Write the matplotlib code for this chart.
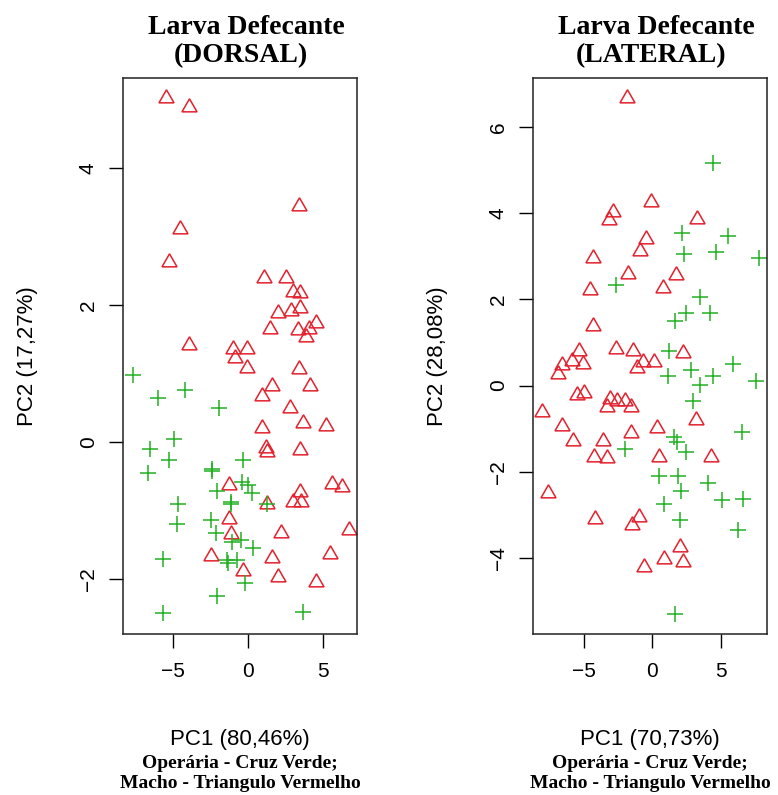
import matplotlib.pyplot as plt

# PCA scores, Larva Defecante - DORSAL view
dorsal_macho_pc1 = [
    -5.49, -3.93, 3.40, -4.53, -5.27, 1.09, 2.53, 3.00, 3.50, 1.98,
    2.85, 3.47, 1.47, 3.33, 4.07, 4.53, 3.87, -3.93, -0.98, -0.07,
    -0.87, -0.07, 3.40, 1.58, 4.13, 0.91, 2.80, 3.64, 5.18, 0.93,
    1.20, 1.24, 3.47, 5.58, 6.29, -1.27, 3.47, 2.98, 3.53, 1.24,
    -1.27, -1.13, 2.18, 6.71, -2.47, 1.62, 5.47, -0.36, 1.98, 4.53,
]
dorsal_macho_pc2 = [
    5.02, 4.88, 3.44, 3.11, 2.62, 2.39, 2.39, 2.19, 2.17, 1.88,
    1.91, 1.96, 1.65, 1.63, 1.65, 1.73, 1.53, 1.41, 1.36, 1.36,
    1.23, 1.08, 1.06, 0.82, 0.82, 0.67, 0.50, 0.28, 0.23, 0.20,
    -0.09, -0.14, -0.12, -0.61, -0.65, -0.63, -0.73, -0.87, -0.87, -0.90,
    -1.12, -1.34, -1.32, -1.29, -1.66, -1.69, -1.64, -1.88, -1.97, -2.04,
]
dorsal_operaria_pc1 = [
    -7.69, -4.20, -6.02, -1.91, -4.91, -6.53, -5.24, -0.36, -6.64, -2.42,
    -2.38, -2.09, -0.42, 0.02, 0.24, -4.64, -1.13, -1.10, 1.24, -4.76,
    -2.47, -2.13, -1.04, -0.47, 0.36, -5.69, -1.42, -1.31, -0.76, -0.20,
    -2.09, -5.69, 3.69,
]
dorsal_operaria_pc2 = [
    0.98, 0.76, 0.64, 0.49, 0.04, -0.10, -0.26, -0.26, -0.45, -0.42,
    -0.40, -0.72, -0.59, -0.63, -0.75, -0.90, -0.90, -0.88, -0.90, -1.20,
    -1.13, -1.32, -1.46, -1.43, -1.55, -1.71, -1.72, -1.77, -1.72, -2.06,
    -2.25, -2.50, -2.48,
]

# PCA scores, Larva Defecante - LATERAL view
lateral_macho_pc1 = [
    -1.85, -0.10, -2.82, -3.12, 3.31, -0.46, -0.88, -4.28, -1.78, 1.75,
    -4.53, 0.78, -4.33, -5.33, -2.65, -1.41, 2.24, -5.86, -6.55, -5.01,
    -0.63, 0.15, -1.07, -6.88, -5.45, -4.96, -3.07, -2.53, -1.97, -3.26,
    -1.55, -8.00, 3.19, -6.55, -1.55, 0.34, -5.74, -3.55, -4.21, -3.31,
    0.49, 4.28, -7.57, -4.16, -0.93, -1.48, 2.04, 0.88, 2.24, -0.56,
]
lateral_macho_pc2 = [
    6.67, 4.26, 4.03, 3.84, 3.86, 3.41, 3.12, 2.96, 2.60, 2.56,
    2.21, 2.27, 1.37, 0.81, 0.84, 0.80, 0.75, 0.58, 0.47, 0.49,
    0.54, 0.54, 0.41, 0.26, -0.23, -0.18, -0.31, -0.35, -0.36, -0.49,
    -0.50, -0.62, -0.79, -0.95, -1.11, -0.99, -1.30, -1.30, -1.67, -1.69,
    -1.65, -1.67, -2.50, -3.10, -3.06, -3.23, -3.74, -4.03, -4.09, -4.22,
]
lateral_operaria_pc1 = [
    4.48, 2.17, 5.57, 2.34, 4.65, 7.83, -2.63, 3.50, 2.48, 4.23,
    1.68, 1.26, 5.89, 2.82, 4.43, 1.19, 3.50, 7.57, 2.97, 6.55,
    1.61, 1.80, -1.97, 2.46, 0.53, 1.92, 4.11, 2.09, 0.90, 5.09,
    6.67, 2.04, 6.30, 1.68,
]
lateral_operaria_pc2 = [
    5.17, 3.54, 3.47, 3.05, 3.10, 2.95, 2.33, 2.05, 1.69, 1.69,
    1.50, 0.80, 0.49, 0.36, 0.23, 0.21, 0.02, 0.10, -0.36, -1.09,
    -1.19, -1.32, -1.47, -1.55, -2.09, -2.09, -2.27, -2.46, -2.74, -2.65,
    -2.64, -3.12, -3.36, -5.31,
]

panels = [
    dict(title=("Larva Defecante", "(DORSAL)"), xlab="PC1 (80,46%)", ylab="PC2 (17,27%)",
         macho=(dorsal_macho_pc1, dorsal_macho_pc2),
         operaria=(dorsal_operaria_pc1, dorsal_operaria_pc2),
         xlim=(-8.33, 7.27), ylim=(-2.80, 5.31),
         xticks=[-5, 0, 5], yticks=[-2, 0, 2, 4]),
    dict(title=("Larva Defecante", "(LATERAL)"), xlab="PC1 (70,73%)", ylab="PC2 (28,08%)",
         macho=(lateral_macho_pc1, lateral_macho_pc2),
         operaria=(lateral_operaria_pc1, lateral_operaria_pc2),
         xlim=(-8.69, 8.39), ylim=(-5.77, 7.14),
         xticks=[-5, 0, 5], yticks=[-4, -2, 0, 2, 4, 6]),
]

RED = "#e3202c"
GREEN = "#22b022"
serif = ["Liberation Serif", "DejaVu Serif"]
sans = ["Liberation Sans", "DejaVu Sans"]

W, H = 778, 795
fig = plt.figure(figsize=(W / 100, H / 100), dpi=100)
lefts = [123, 533]


def fy(py):
    return 1 - py / H


for p, left in zip(panels, lefts):
    ax = fig.add_axes([left / W, (H - 634) / H, 234 / W, 556 / H])
    ax.plot(*p["macho"], linestyle="none", marker=(3, 0, 0), markersize=12.5,
            markerfacecolor="none", markeredgecolor=RED, markeredgewidth=1.1)
    ax.plot(*p["operaria"], linestyle="none", marker="+", markersize=12,
            color=GREEN, markeredgewidth=1.1)
    ax.set_xlim(p["xlim"])
    ax.set_ylim(p["ylim"])
    ax.set_xticks(p["xticks"])
    ax.set_yticks(p["yticks"])
    ax.tick_params(direction="out", length=10, width=1, labelsize=15)
    ax.tick_params(axis="x", pad=10)
    ax.tick_params(axis="y", pad=8)
    for lab in ax.get_xticklabels() + ax.get_yticklabels():
        lab.set_family(sans)
    plt.setp(ax.get_yticklabels(), rotation=90, va="center")
    for s in ax.spines.values():
        s.set_linewidth(1.1)
        s.set_color("#222222")

    cx = left + 117
    line1, line2 = p["title"]
    fig.text((cx + 6) / W, fy(27), line1, ha="center", va="center",
             fontsize=20, fontweight="bold", family=serif)
    fig.text((cx + 1) / W, fy(56), line2, ha="center", va="center",
             fontsize=20, fontweight="bold", family=serif)
    fig.text(cx / W, fy(740), p["xlab"], ha="center", va="center",
             fontsize=16, family=sans)
    fig.text(cx / W, fy(763), "Operária - Cruz Verde;", ha="center", va="center",
             fontsize=14, fontweight="bold", family=serif)
    fig.text(cx / W, fy(783), "Macho - Triangulo Vermelho", ha="center", va="center",
             fontsize=14, fontweight="bold", family=serif)
    fig.text((left - 95) / W, fy(356), p["ylab"], ha="center", va="center",
             rotation=90, fontsize=16, family=sans)

fig.savefig("out.png", dpi=100)
